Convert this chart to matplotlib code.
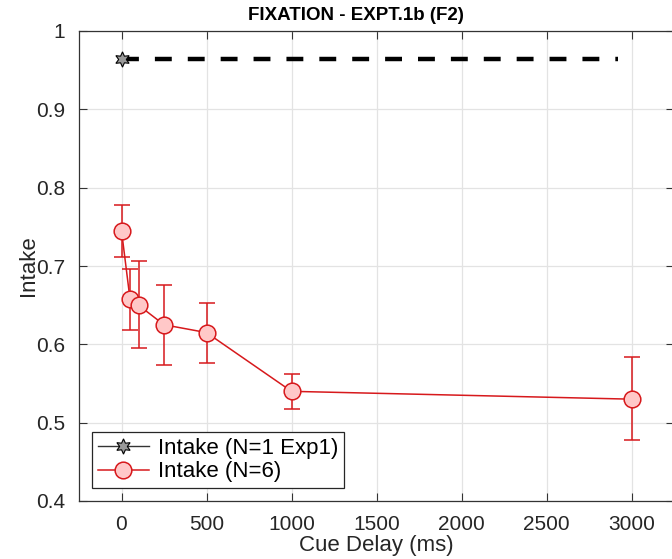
import numpy as np
import matplotlib
matplotlib.use("Agg")
import matplotlib.pyplot as plt

plt.rcParams['font.family'] = ['Liberation Sans', 'DejaVu Sans']

# data
delays = [0, 50, 100, 250, 500, 1000, 3000]
intake = [0.745, 0.658, 0.650, 0.625, 0.615, 0.540, 0.530]
err_hi = [0.778, 0.696, 0.706, 0.676, 0.653, 0.562, 0.584]
err_lo = [0.712, 0.618, 0.595, 0.574, 0.576, 0.517, 0.478]

exp1_x = [0]
exp1_y = [0.964]
ref_x = [0, 2920]
ref_y = [0.964, 0.964]

xticks = [0, 500, 1000, 1500, 2000, 2500, 3000]
yticks = [0.4, 0.5, 0.6, 0.7, 0.8, 0.9, 1.0]
ytick_labels = ['0.4', '0.5', '0.6', '0.7', '0.8', '0.9', '1']

fig = plt.figure(figsize=(6.72, 5.59), dpi=100)
W, H = 672, 559
ax = fig.add_axes([79 / W, (H - 501) / H, (674 - 79) / W, (501 - 31) / H])

red = '#d7191c'
pink = '#ffc8c8'

yerr = [np.array(intake) - np.array(err_lo), np.array(err_hi) - np.array(intake)]

ax.plot(ref_x, ref_y, color='black', lw=3.2, ls=(0, (3.8, 3.6)), zorder=3,
        solid_capstyle='butt', dash_capstyle='butt')
l1, = ax.plot(exp1_x, exp1_y, color='#333333', lw=1, marker=(6, 1, 0), ms=11,
              mfc='#999999', mec='black', mew=0.8, zorder=4)
eb = ax.errorbar(delays, intake, yerr=yerr, color=red, lw=1.1, elinewidth=1.1,
                 capsize=6, capthick=1.1, marker='o', ms=12, mfc=pink, mec=red,
                 mew=1.1, zorder=5)

ax.set_xlim(-250, 3250)
ax.set_ylim(0.4, 1.0)
ax.set_xticks(xticks)
ax.set_yticks(yticks)
ax.set_yticklabels(ytick_labels)
ax.tick_params(direction='in', length=6, width=0.8, top=True, right=True,
               labelsize=15, colors='#333333', labelcolor='#262626', pad=10)
ax.grid(True, color='#e3e3e3', lw=0.9)
ax.set_axisbelow(True)
for s in ax.spines.values():
    s.set_color('#333333')
    s.set_linewidth(0.9)

ax.set_xlabel('Cue Delay (ms)', fontsize=16, color='#262626', labelpad=1)
ax.set_ylabel('Intake', fontsize=16, color='#262626', labelpad=-2)
ax.text(356 / W, 1 - 16 / H, 'FIXATION - EXPT.1b (F2)', transform=fig.transFigure,
        ha='center', va='center', fontsize=13.5, fontweight='bold')

leg = ax.legend([l1, eb.lines[0]], ['Intake (N=1 Exp1)', 'Intake (N=6)'],
                loc='lower left', bbox_to_anchor=(0.022, 0.028),
                fontsize=16, frameon=True, fancybox=False, edgecolor='#262626',
                framealpha=1, borderpad=0.25, labelspacing=0.12, handlelength=2.3,
                handletextpad=0.4, borderaxespad=0)
leg.get_frame().set_linewidth(0.9)

fig.savefig('out.png', dpi=100)
